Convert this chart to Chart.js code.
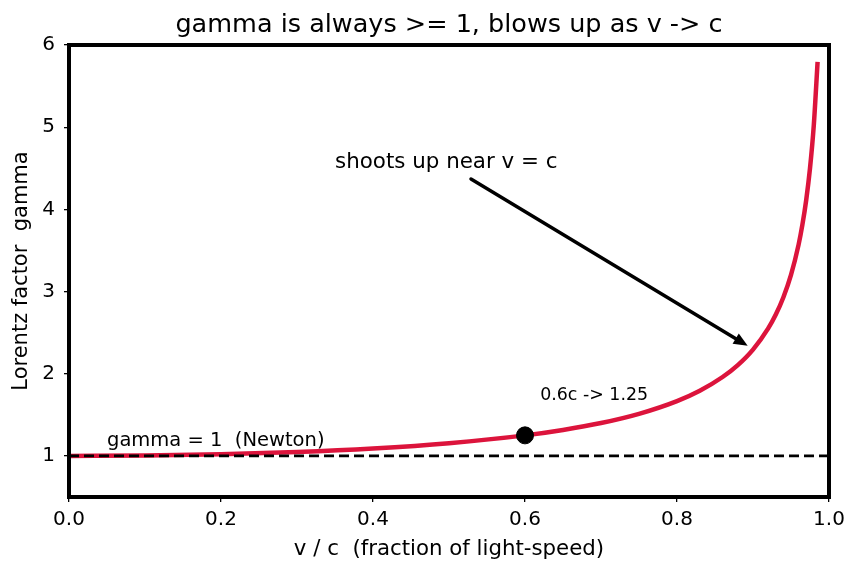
<!DOCTYPE html>
<html>
<head>
<meta charset="utf-8">
<script src="https://cdn.jsdelivr.net/npm/chart.js@4.4.0/dist/chart.umd.min.js"></script>
<style>
  body { margin: 0; background: #fff; }
  #wrap { width: 859px; height: 573px; }
</style>
</head>
<body>
<div id="wrap"><canvas id="graph"></canvas></div>
<script>
// Data
var speedValues = [0, 0.1, 0.2, 0.3, 0.4, 0.5, 0.6, 0.65, 0.7, 0.75, 0.8, 0.83, 0.86, 0.88, 0.9,
  0.92, 0.93, 0.94, 0.95, 0.96, 0.965, 0.97, 0.975, 0.98, 0.985];
var gammaValues = [1, 1.005, 1.021, 1.048, 1.091, 1.155, 1.25, 1.316, 1.4, 1.512, 1.667, 1.793, 1.96, 2.105, 2.294,
  2.552, 2.72, 2.931, 3.203, 3.571, 3.813, 4.113, 4.5, 5.025, 5.795];
var newtonLine = [1, 1];
var newtonRange = [0, 1];
var markedPoint = [0.6, 1.25];
var xTicks = [0, 0.2, 0.4, 0.6, 0.8, 1.0];
var yTicks = [1, 2, 3, 4, 5, 6];

var FONT = "'DejaVu Sans', sans-serif";

function toPoints(xs, ys) {
  var pts = [];
  for (var i = 0; i < xs.length; i++) {
    pts.push({ x: xs[i], y: ys[i] });
  }
  return pts;
}

// draws title, frame and the text / arrow annotations
var decorPlugin = {
  id: 'decor',
  afterDatasetsDraw: function (chart) {
    var ctx = chart.ctx;
    var a = chart.chartArea;
    var xs = chart.scales.x, ys = chart.scales.y;
    ctx.save();

    // frame
    ctx.strokeStyle = '#000';
    ctx.lineWidth = 4;
    ctx.strokeRect(a.left, a.top, a.right - a.left, a.bottom - a.top);

    // title
    ctx.fillStyle = '#000';
    ctx.font = '25.5px ' + FONT;
    ctx.textAlign = 'center';
    ctx.textBaseline = 'alphabetic';
    ctx.fillText('gamma is always >= 1, blows up as v -> c', (a.left + a.right) / 2, 32);

    // annotations
    ctx.textAlign = 'left';
    ctx.font = '21.4px ' + FONT;
    ctx.fillText('shoots up near v = c', xs.getPixelForValue(0.35), ys.getPixelForValue(4.5));
    ctx.font = '19.5px ' + FONT;
    ctx.fillText('gamma = 1  (Newton)', xs.getPixelForValue(0.05), ys.getPixelForValue(1.12));
    ctx.font = '17.4px ' + FONT;
    ctx.fillText('0.6c -> 1.25', xs.getPixelForValue(0.62), ys.getPixelForValue(1.68));

    // arrow
    var x0 = 471, y0 = 179;
    var x1 = xs.getPixelForValue(0.893), y1 = ys.getPixelForValue(2.34);
    var ang = Math.atan2(y1 - y0, x1 - x0);
    ctx.lineWidth = 3.5;
    ctx.lineCap = 'round';
    ctx.beginPath();
    ctx.moveTo(x0, y0);
    ctx.lineTo(x1 - 8 * Math.cos(ang), y1 - 8 * Math.sin(ang));
    ctx.stroke();
    ctx.beginPath();
    ctx.moveTo(x1, y1);
    ctx.lineTo(x1 - 14 * Math.cos(ang) + 6 * Math.sin(ang), y1 - 14 * Math.sin(ang) - 6 * Math.cos(ang));
    ctx.lineTo(x1 - 14 * Math.cos(ang) - 6 * Math.sin(ang), y1 - 14 * Math.sin(ang) + 6 * Math.cos(ang));
    ctx.closePath();
    ctx.fill();

    ctx.restore();
  }
};

var ctx = document.getElementById('graph').getContext('2d');
var chart = new Chart(ctx, {
  type: 'scatter',
  data: {
    datasets: [
      {
        data: toPoints(speedValues, gammaValues),
        showLine: true,
        borderColor: '#dc143c',
        borderWidth: 4.5,
        pointRadius: 0,
        cubicInterpolationMode: 'monotone',
        order: 3
      },
      {
        data: toPoints(newtonRange, newtonLine),
        showLine: true,
        borderColor: '#000',
        borderWidth: 2.6,
        borderDash: [10, 5],
        pointRadius: 0,
        order: 2
      },
      {
        data: [{ x: markedPoint[0], y: markedPoint[1] }],
        backgroundColor: '#000',
        borderColor: '#000',
        pointRadius: 8.5,
        order: 1
      }
    ]
  },
  options: {
    responsive: true,
    maintainAspectRatio: false,
    animation: false,
    layout: { padding: { top: 45, right: 30, left: 0, bottom: 0 } },
    plugins: {
      legend: { display: false },
      tooltip: { enabled: false }
    },
    scales: {
      x: {
        type: 'linear',
        min: 0,
        max: 1,
        afterBuildTicks: function (axis) {
          axis.ticks = xTicks.map(function (v) { return { value: v }; });
        },
        afterFit: function (axis) { axis.height = 76; },
        ticks: {
          color: '#000',
          font: { family: FONT, size: 20 },
          padding: 6,
          maxRotation: 0,
          callback: function (v) { return v.toFixed(1); }
        },
        grid: { drawOnChartArea: false, drawTicks: true, tickLength: 5, color: '#000', lineWidth: 1.3 },
        border: { display: false },
        title: {
          display: true,
          text: 'v / c  (fraction of light-speed)',
          color: '#000',
          font: { family: FONT, size: 21.3 },
          padding: { top: 0, bottom: 11 }
        }
      },
      y: {
        type: 'linear',
        min: 0.5,
        max: 6,
        afterBuildTicks: function (axis) {
          axis.ticks = yTicks.map(function (v) { return { value: v }; });
        },
        afterFit: function (axis) { axis.width = 69; },
        ticks: {
          color: '#000',
          font: { family: FONT, size: 20 },
          padding: 9
        },
        grid: { drawOnChartArea: false, drawTicks: true, tickLength: 5, color: '#000', lineWidth: 1.3 },
        border: { display: false },
        title: {
          display: true,
          text: 'Lorentz factor  gamma',
          color: '#000',
          font: { family: FONT, size: 21 },
          padding: { top: 9, bottom: 0 }
        }
      }
    }
  },
  plugins: [decorPlugin]
});
</script>
</body>
</html>
